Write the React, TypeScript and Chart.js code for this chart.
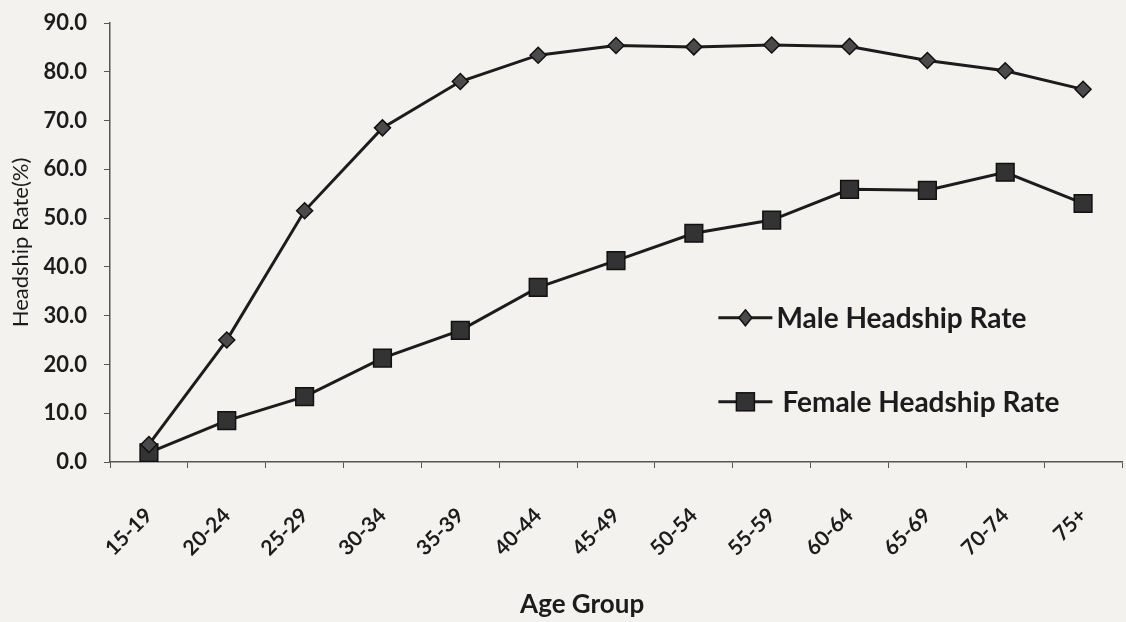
import React, { useEffect, useRef } from "react";
import { Chart, registerables } from "chart.js";

Chart.register(...registerables);

const ageGroups = ["15-19", "20-24", "25-29", "30-34", "35-39", "40-44", "45-49", "50-54", "55-59", "60-64", "65-69", "70-74", "75+"];
const maleRate = [3.6, 25.0, 51.5, 68.5, 78.0, 83.4, 85.4, 85.1, 85.5, 85.2, 82.3, 80.2, 76.4];
const femaleRate = [1.9, 8.5, 13.4, 21.3, 27.0, 35.8, 41.3, 46.9, 49.6, 55.9, 55.7, 59.4, 53.0];
const yTicks = [0, 10, 20, 30, 40, 50, 60, 70, 80, 90];
const seriesNames = ["Male Headship Rate", "Female Headship Rate"];
const xTitle = "Age Group";
const yTitle = "Headship Rate(%)";

const BG = "#f4f2ee";
const INK = "#1c1c1c";
const FONT = "Lato, 'Open Sans', sans-serif";

const overlayPlugin = {
  id: "overlay",
  afterDraw(chart: any) {
    const ctx = chart.ctx;
    const W = chart.width;
    const H = chart.height;
    const items = [
      { name: seriesNames[0], ds: chart.data.datasets[0], x: 0.638 * W, y: 0.511 * H, textGap: 4 },
      { name: seriesNames[1], ds: chart.data.datasets[1], x: 0.638 * W, y: 0.646 * H, textGap: 10 },
    ];
    ctx.save();
    for (const it of items) {
      const lineLen = 54;
      ctx.strokeStyle = INK;
      ctx.lineWidth = 3;
      ctx.beginPath();
      ctx.moveTo(it.x, it.y);
      ctx.lineTo(it.x + lineLen, it.y);
      ctx.stroke();
      ctx.fillStyle = it.ds.pointBackgroundColor;
      ctx.strokeStyle = it.ds.pointBorderColor;
      ctx.lineWidth = 1.5;
      const cx = it.x + lineLen / 2;
      if (it.ds.pointStyle === "rect") {
        const s = 9;
        ctx.fillRect(cx - s, it.y - s, 2 * s, 2 * s);
        ctx.strokeRect(cx - s, it.y - s, 2 * s, 2 * s);
      } else {
        ctx.beginPath();
        ctx.moveTo(cx, it.y - 8);
        ctx.lineTo(cx + 6.5, it.y);
        ctx.lineTo(cx, it.y + 8);
        ctx.lineTo(cx - 6.5, it.y);
        ctx.closePath();
        ctx.fill();
        ctx.stroke();
      }
      ctx.fillStyle = INK;
      ctx.font = `bold 28px ${FONT}`;
      ctx.textAlign = "left";
      ctx.textBaseline = "middle";
      ctx.fillText(it.name, it.x + lineLen + it.textGap, it.y + 1);
    }
    // x axis title
    ctx.font = `bold 26px ${FONT}`;
    ctx.textAlign = "center";
    ctx.textBaseline = "middle";
    ctx.fillStyle = INK;
    ctx.fillText(xTitle, 0.517 * W, 0.972 * H);
    ctx.restore();
  },
};

const bgPlugin = {
  id: "bg",
  beforeDraw(chart: any) {
    const ctx = chart.ctx;
    ctx.save();
    ctx.fillStyle = BG;
    ctx.fillRect(0, 0, chart.width, chart.height);
    ctx.restore();
  },
};

export default function App() {
  const ref = useRef<HTMLCanvasElement | null>(null);

  useEffect(() => {
    document.body.style.margin = "0";
    document.body.style.background = BG;
    if (!ref.current) return;
    const chart = new Chart(ref.current, {
      type: "line",
      data: {
        labels: ageGroups,
        datasets: [
          {
            label: seriesNames[0],
            data: maleRate,
            borderColor: INK,
            borderWidth: 3,
            pointStyle: "rectRot",
            pointRadius: 8,
            pointBackgroundColor: "#4a4a4a",
            pointBorderColor: "#111",
            pointBorderWidth: 1.5,
            tension: 0,
          },
          {
            label: seriesNames[1],
            data: femaleRate,
            borderColor: INK,
            borderWidth: 3,
            pointStyle: "rect",
            pointRadius: 12.5,
            pointBackgroundColor: "#333",
            pointBorderColor: "#111",
            pointBorderWidth: 1.5,
            tension: 0,
          },
        ],
      },
      options: {
        animation: false,
        responsive: false,
        layout: { autoPadding: false, padding: { left: 8, right: 4, top: 23, bottom: 4 } },
        plugins: { legend: { display: false }, tooltip: { enabled: false } },
        scales: {
          x: {
            type: "category",
            offset: true,
            grid: { offset: true, drawOnChartArea: false, drawTicks: true, tickLength: 6, color: "#555" },
            border: { color: "#555", width: 1.5 },
            ticks: {
              minRotation: 45,
              maxRotation: 45,
              padding: 35,
              color: INK,
              font: { family: FONT, size: 21, weight: "bold" },
            },
            afterFit(scale: any) {
              scale.height = 156;
              scale.paddingLeft = 0;
              scale.paddingRight = 0;
            },
          },
          y: {
            min: 0,
            max: 90,
            afterBuildTicks(scale: any) {
              scale.ticks = yTicks.map((v) => ({ value: v }));
            },
            grid: { drawOnChartArea: false, drawTicks: true, tickLength: 6, color: "#555" },
            border: { color: "#555", width: 1.5 },
            ticks: {
              padding: 17,
              color: INK,
              font: { family: FONT, size: 22, weight: "bold" },
              callback: (v: any) => Number(v).toFixed(1),
            },
            title: {
              display: true,
              text: yTitle,
              color: INK,
              font: { family: FONT, size: 22 },
              padding: { top: 0, bottom: 0 },
            },
            afterFit(scale: any) {
              scale.width = 102;
              scale.paddingTop = 0;
              scale.paddingBottom = 0;
            },
          },
        },
      },
      plugins: [bgPlugin, overlayPlugin],
    });
    return () => chart.destroy();
  }, []);

  return <canvas ref={ref} width={1126} height={622} style={{ display: "block" }} />;
}
